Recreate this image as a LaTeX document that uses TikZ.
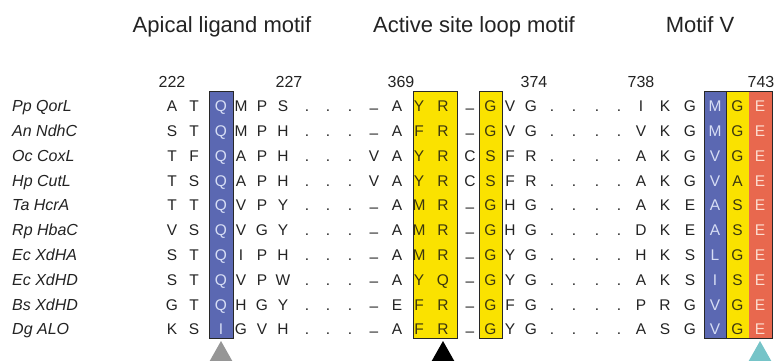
\documentclass[tikz,border=0pt]{standalone}
\usepackage{fontspec}
\setmainfont{Liberation Sans}
\definecolor{blueF}{RGB}{91,104,178}
\definecolor{yelF}{RGB}{250,226,0}
\definecolor{redF}{RGB}{232,104,78}
\definecolor{txtc}{RGB}{35,35,35}
\definecolor{lightb}{RGB}{215,222,245}
\definecolor{lightr}{RGB}{252,220,206}
\definecolor{darky}{RGB}{60,55,15}
\definecolor{edgec}{RGB}{40,40,40}
\definecolor{triG}{RGB}{150,150,150}
\definecolor{triC}{RGB}{118,196,200}
\newcommand\dd{\raisebox{-1.5pt}{–}}
\begin{document}
\begin{tikzpicture}[x=1pt,y=-1pt,
  title/.style={anchor=base, font=\fontsize{22}{26}\selectfont, text=txtc, inner sep=0pt},
  num/.style={anchor=base, font=\fontsize{16}{19}\selectfont, text=txtc, inner sep=0pt},
  spn/.style={anchor=base west, font=\fontsize{16}{19}\selectfont\itshape, text=txtc, inner sep=0pt},
  res/.style={anchor=base, font=\fontsize{15.5}{18}\selectfont, text=txtc, inner sep=0pt},
  onblue/.style={text=lightb}, onyel/.style={text=darky}, onred/.style={text=lightr},
  cs3/.style={onblue}, cs12/.style={onyel}, cs13/.style={onyel}, cs15/.style={onyel},
  cs25/.style={onblue}, cs26/.style={onyel}, cs27/.style={onred},
  colbox/.style={draw=edgec, line width=0.8pt}]
\clip (0,0) rectangle (777,360);
\fill[white] (0,0) rectangle (777,360);

% titles
\node[title] (t1) at (222,32) {Apical ligand motif};
\node[title] (t2) at (474,32) {Active site loop motif};
\node[title] (t3) at (700,32) {Motif V};

% position numbers
\node[num] (n222) at (172,87) {222};
\node[num] (n227) at (289,87) {227};
\node[num] (n369) at (401,87) {369};
\node[num] (n374) at (534,87) {374};
\node[num] (n738) at (641,87) {738};
\node[num] (n743) at (761,87) {743};

% coloured columns
\fill[blueF] (209,91) rectangle (233,338);
\draw[colbox] (209,91) rectangle (233,338);
\fill[yelF] (413,91) rectangle (457,338);
\draw[colbox] (413,91) rectangle (457,338);
\fill[yelF] (479,91) rectangle (502,338);
\draw[colbox] (479,91) rectangle (502,338);
\fill[blueF] (704,91) rectangle (726,338);
\fill[yelF] (726,91) rectangle (749,338);
\fill[redF] (749,91) rectangle (772,338);
\draw[colbox] (704,91) rectangle (772,338);
\draw[colbox] (726,91) -- (726,338);

% residues
\foreach \lab/\seq [count=\r] in {
 Pp QorL/{A,T,Q,M,P,S,.,.,.,\dd,A,Y,R,\dd,G,V,G,.,.,.,.,I,K,G,M,G,E},
 An NdhC/{S,T,Q,M,P,H,.,.,.,\dd,A,F,R,\dd,G,V,G,.,.,.,.,V,K,G,M,G,E},
 Oc CoxL/{T,F,Q,A,P,H,.,.,.,V,A,Y,R,C,S,F,R,.,.,.,.,A,K,G,V,G,E},
 Hp CutL/{T,S,Q,A,P,H,.,.,.,V,A,Y,R,C,S,F,R,.,.,.,.,A,K,G,V,A,E},
 Ta HcrA/{T,T,Q,V,P,Y,.,.,.,\dd,A,M,R,\dd,G,H,G,.,.,.,.,A,K,E,A,S,E},
 Rp HbaC/{V,S,Q,V,G,Y,.,.,.,\dd,A,M,R,\dd,G,H,G,.,.,.,.,D,K,E,A,S,E},
 Ec XdHA/{S,T,Q,I,P,H,.,.,.,\dd,A,M,R,\dd,G,Y,G,.,.,.,.,H,K,S,L,G,E},
 Ec XdHD/{S,T,Q,V,P,W,.,.,.,\dd,A,Y,Q,\dd,G,Y,G,.,.,.,.,A,K,S,I,S,E},
 Bs XdHD/{G,T,Q,H,G,Y,.,.,.,\dd,E,F,R,\dd,G,F,G,.,.,.,.,P,R,G,V,G,E},
 Dg ALO/{K,S,I,G,V,H,.,.,.,\dd,A,F,R,\dd,G,Y,G,.,.,.,.,A,S,G,V,G,E}}{
  \pgfmathsetmacro\yy{111.7+(\r-1)*24.8}
  \node[spn] (sp\r) at (12,\yy) {\lab};
  \foreach \ch [count=\c] in \seq {
    \pgfmathsetmacro\xx{{172,194,221,241,262,283,307,328,350,374,397,419,443,470,490.5,510,531,552,574,597,619,641,665,690,715,737.5,760}[\c-1]}
    \node[res, cs\c/.try] (r\r-\c) at (\xx,\yy) {\ch};
  }
}

% markers
\fill[triG] (221,341) -- (208,364) -- (234,364) -- cycle;
\fill[black] (443,341) -- (430,364) -- (456,364) -- cycle;
\fill[triC] (760,341) -- (747,364) -- (773,364) -- cycle;
\end{tikzpicture}
\end{document}
